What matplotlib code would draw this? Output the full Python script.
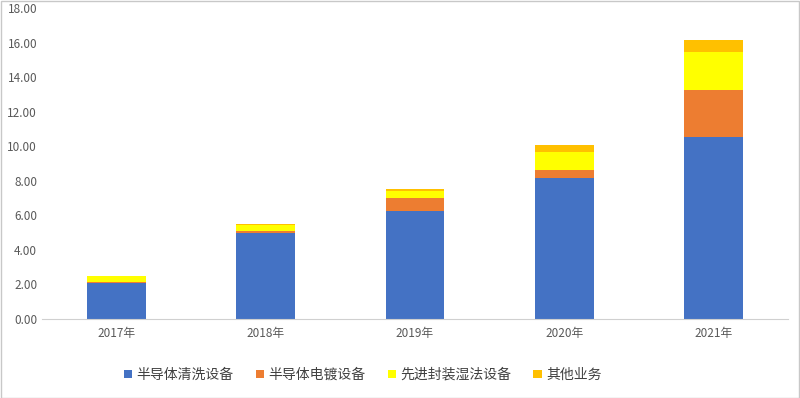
import numpy as np
import matplotlib.pyplot as plt
from matplotlib.patches import Rectangle

plt.rcParams['font.family'] = ['Noto Sans CJK SC', 'DejaVu Sans']

years = ['2017年', '2018年', '2019年', '2020年', '2021年']
series_names = ['半导体清洗设备', '半导体电镀设备', '先进封装湿法设备', '其他业务']
cleaning = [2.10, 5.00, 6.27, 8.14, 10.55]
plating = [0.02, 0.09, 0.75, 0.50, 2.70]
packaging = [0.37, 0.33, 0.41, 1.04, 2.22]
other = [0.02, 0.08, 0.09, 0.39, 0.68]
colors = ['#4472C4', '#ED7D31', '#FFFF00', '#FFC000']

fig = plt.figure(figsize=(8, 3.98), dpi=100)
ax = fig.add_axes([0.0525, 0.1985, 0.9325, 0.7815])

x = np.arange(len(years))
bottom = np.zeros(len(years))
for name, vals, c in zip(series_names, [cleaning, plating, packaging, other], colors):
    ax.bar(x, vals, width=0.395, bottom=bottom, color=c, label=name, zorder=2)
    bottom += np.array(vals)

ax.set_xlim(-0.5, 4.5)
ax.set_ylim(0, 18)
ax.set_yticks(np.arange(0, 18.1, 2))
ax.set_yticklabels([f'{v:.2f}' for v in np.arange(0, 18.1, 2)])
ax.set_xticks(x)
ax.set_xticklabels(years)
ax.tick_params(axis='both', length=0, labelsize=8.5, colors='#595959')
ax.tick_params(axis='x', pad=6)
for s in ['top', 'right', 'left']:
    ax.spines[s].set_visible(False)
ax.spines['bottom'].set_color('#D0D0D0')

ax.legend(loc='center', bbox_to_anchor=(0.43, -0.18), ncol=4, frameon=False,
          fontsize=10, handlelength=0.6, handleheight=0.6, handletextpad=0.3,
          columnspacing=1.6, labelcolor='#404040')

fig.patches.append(Rectangle((0.001, 0.001), 0.998, 0.997, transform=fig.transFigure,
                             fill=False, edgecolor='#C8C8C8', linewidth=1))

fig.savefig('out.png', dpi=100)
